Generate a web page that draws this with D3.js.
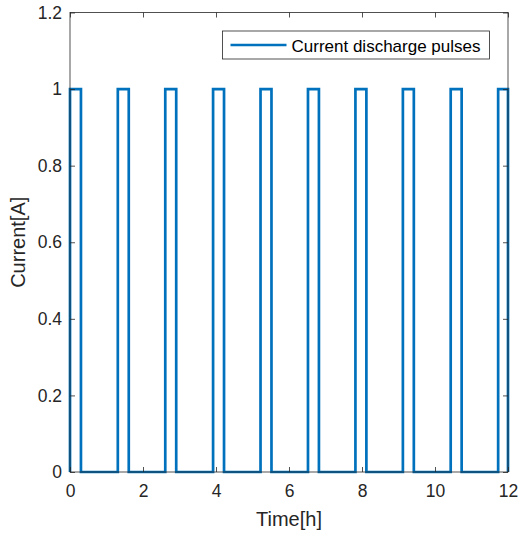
<!DOCTYPE html>
<html>
<head>
<meta charset="utf-8">
<script src="https://cdn.jsdelivr.net/npm/d3@7"></script>
<style>
  body { margin: 0; background: #fff; }
  svg { font-family: "Liberation Sans", Arial, sans-serif; }
</style>
</head>
<body>
<div id="chart"></div>
<script>
// pulse edges (hours)
const pulseStart = [0, 1.31, 2.61, 3.92, 5.22, 6.52, 7.82, 9.12, 10.43, 11.73];
const pulseEnd   = [0.30, 1.61, 2.91, 4.22, 5.52, 6.82, 8.12, 9.42, 10.73, 12.0];
const pulseLevel = 1;
const xTicks = [0, 2, 4, 6, 8, 10, 12];
const yTicks = [0, 0.2, 0.4, 0.6, 0.8, 1, 1.2];
const seriesName = "Current discharge pulses";

const width = 519, height = 539;
const margin = { left: 70, right: 11, top: 12.5, bottom: 67 };
const iw = width - margin.left - margin.right;
const ih = height - margin.top - margin.bottom;

// build step signal from the edges
const points = [];
pulseStart.forEach((s, i) => {
  points.push([s, 0], [s, pulseLevel], [pulseEnd[i], pulseLevel], [pulseEnd[i], 0]);
});

const svg = d3.select("#chart").append("svg")
  .attr("width", width).attr("height", height);
const g = svg.append("g").attr("transform", `translate(${margin.left},${margin.top})`);

const x = d3.scaleLinear().domain([0, 12]).range([0, iw]);
const y = d3.scaleLinear().domain([0, 1.2]).range([ih, 0]);

const axisColor = "#262626";

// signal
const line = d3.line().x(d => x(d[0])).y(d => y(d[1]));
g.append("path")
  .datum(points)
  .attr("d", line)
  .attr("fill", "none")
  .attr("stroke", "#0072BD")
  .attr("stroke-width", 2.7);

// box
g.append("rect")
  .attr("width", iw).attr("height", ih)
  .attr("fill", "none").attr("stroke", axisColor).attr("stroke-width", 0.8);

// axes (ticks inside)
const tickLen = 5;
const xAxis = g.append("g").attr("transform", `translate(0,${ih})`)
  .call(d3.axisBottom(x).tickValues(xTicks).tickSizeInner(-tickLen).tickSizeOuter(0).tickPadding(13));
const xTop = g.append("g")
  .call(d3.axisTop(x).tickValues(xTicks).tickSizeInner(-tickLen).tickSizeOuter(0).tickFormat(""));
const yAxis = g.append("g")
  .call(d3.axisLeft(y).tickValues(yTicks).tickSizeInner(-tickLen).tickSizeOuter(0).tickPadding(8).tickFormat(d3.format("~g")));
const yRight = g.append("g").attr("transform", `translate(${iw},0)`)
  .call(d3.axisRight(y).tickValues(yTicks).tickSizeInner(-tickLen).tickSizeOuter(0).tickFormat(""));

[xAxis, xTop, yAxis, yRight].forEach(a => {
  a.select(".domain").remove();
  a.selectAll("line").attr("stroke", axisColor).attr("stroke-width", 0.8);
  a.selectAll("text").attr("fill", axisColor).attr("font-size", 17.5)
    .attr("font-family", "Liberation Sans, Arial, sans-serif");
});

// axis labels
svg.append("text")
  .attr("x", margin.left + iw / 2).attr("y", 526)
  .attr("text-anchor", "middle").attr("font-size", 20).attr("fill", axisColor)
  .text("Time[h]");
svg.append("text")
  .attr("transform", `translate(25,${margin.top + ih / 2}) rotate(-90)`)
  .attr("text-anchor", "middle").attr("font-size", 20).attr("fill", axisColor)
  .text("Current[A]");

// legend
const lg = svg.append("g").attr("transform", "translate(222.5,31)");
lg.append("rect").attr("width", 267).attr("height", 28)
  .attr("fill", "#fff").attr("stroke", axisColor).attr("stroke-width", 0.8);
lg.append("line").attr("x1", 8).attr("x2", 64).attr("y1", 14).attr("y2", 14)
  .attr("stroke", "#0072BD").attr("stroke-width", 2.7);
lg.append("text").attr("x", 69).attr("y", 20.5)
  .attr("font-size", 17).attr("fill", "#000").text(seriesName);
</script>
</body>
</html>
